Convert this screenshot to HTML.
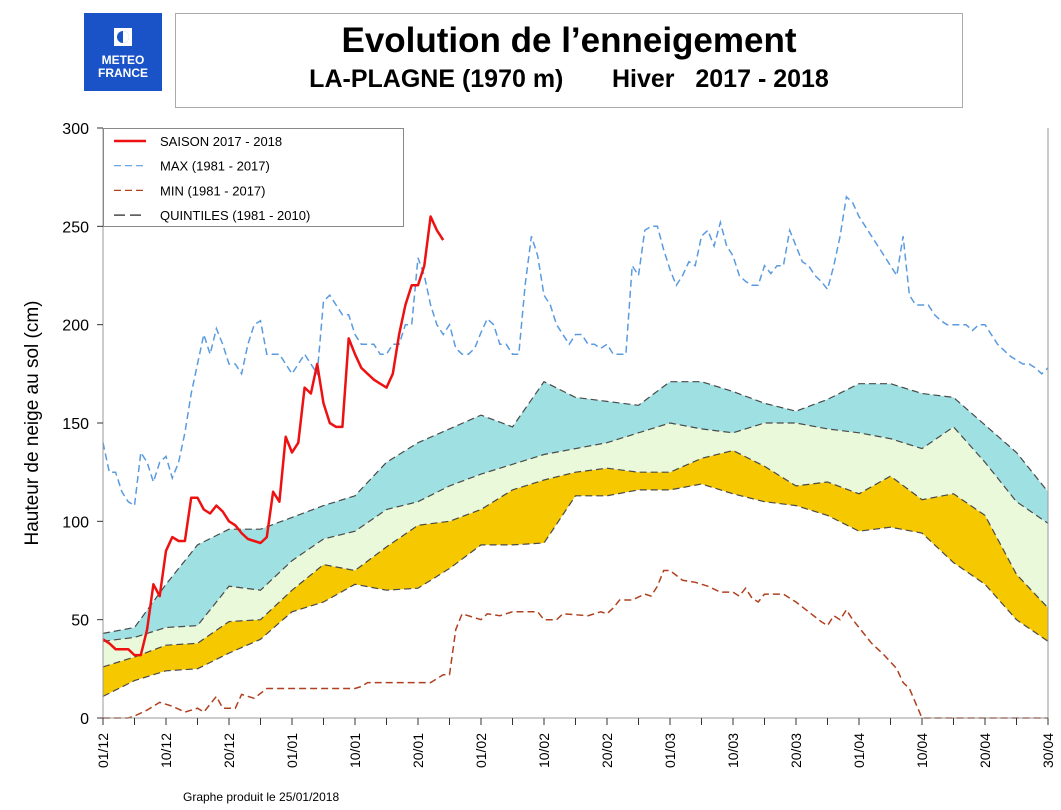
<!DOCTYPE html>
<html><head><meta charset="utf-8">
<style>
body{margin:0;background:#fff;width:1061px;height:805px;overflow:hidden;font-family:"Liberation Sans",sans-serif;}
</style></head>
<body>
<svg id="chart" width="1061" height="805" xmlns="http://www.w3.org/2000/svg" font-family="Liberation Sans, sans-serif">
<g>
<rect x="84" y="13" width="78" height="78" fill="#1a52c8"/>
<rect x="114" y="28" width="18" height="18" fill="#fff"/>
<circle cx="123" cy="37" r="6" fill="#1a52c8"/><path d="M123 31 A6 6 0 0 1 123 43 Z" fill="#fff"/>
<text x="123" y="64" fill="#fff" font-size="12" font-weight="bold" text-anchor="middle">METEO</text>
<text x="123" y="77" fill="#fff" font-size="12" font-weight="bold" text-anchor="middle">FRANCE</text>
</g>
<rect x="175.5" y="13.5" width="787" height="94" fill="#fff" stroke="#aaa"/>
<text x="569" y="52" font-size="35" font-weight="bold" text-anchor="middle">Evolution de l’enneigement</text>
<text x="569" y="87" font-size="25" font-weight="bold" text-anchor="middle" xml:space="preserve">LA-PLAGNE (1970 m)       Hiver   2017 - 2018</text>
<text transform="translate(38,423) rotate(-90)" font-size="19" text-anchor="middle">Hauteur de neige au sol (cm)</text>
<text x="183" y="801" font-size="12">Graphe produit le 25/01/2018</text>
<g id="plot"></g>
</svg>
<script>
const qDays=[0,5,10,15,20,25,30,35,40,45,50,55,60,65,70,75,80,85,90,95,100,105,110,115,120,125,130,135,140,145,150];
const q4=[43,46,68,88,96,96,102,108,113,130,140,147,154,148,171,163,161,159,171,171,166,160,156,162,170,170,165,163,149,135,115];
const q3=[39,41,46,47,67,65,80,91,95,106,110,118,124,129,134,137,140,145,150,147,145,150,150,147,145,142,137,148,130,110,99];
const q2=[26,31,37,38,49,50,65,78,75,87,98,100,106,116,121,125,127,125,125,132,136,128,118,120,114,123,111,114,103,73,56];
const q1=[11,19,24,25,33,40,54,59,68,65,66,76,88,88,89,113,113,116,116,119,114,110,108,103,95,97,94,79,68,50,39];
const season=[40,38,35,35,35,32,32,45,68,62,85,92,90,90,112,112,106,104,108,105,100,98,94,91,90,89,92,115,110,143,135,140,168,165,180,160,150,148,148,193,185,178,175,172,170,168,175,195,210,220,220,230,255,248,243];
const maxVals=[140,125,125,115,110,108,135,130,120,130,133,122,130,145,165,180,195,185,198,190,180,180,175,190,200,202,185,185,185,180,175,180,185,180,175,212,215,210,205,205,195,190,190,190,185,185,190,190,200,200,234,225,210,200,195,200,188,185,185,188,196,203,200,190,190,185,185,220,245,235,215,210,200,195,190,195,195,190,190,188,190,185,185,185,230,225,248,250,250,238,228,220,225,232,230,245,248,240,252,240,235,225,222,220,220,230,226,230,230,248,240,232,230,225,222,218,230,245,265,262,255,250,245,240,235,230,225,245,215,210,210,210,205,202,200,200,200,200,197,200,200,195,190,187,184,182,180,180,178,175,178];
const minDays=[0,4,5,7,9,11,13,15,16,18,19,21,22,24,26,40,41,42,52,54,55,56,57,59,60,61,63,65,69,70,72,73,77,79,80,81,82,84,86,87,88,89,90,92,94,96,98,100,101,102,103,104,105,108,110,112,114,115,116,117,118,119,120,122,124,126,127,128,130,150];
const minVals=[0,0,1,4,8,6,3,5,3,11,5,5,12,10,15,15,16,18,18,22,22,45,53,51,50,53,52,54,54,50,50,53,52,54,53,56,60,60,63,62,67,75,75,70,69,67,64,64,62,66,61,59,63,63,59,54,49,47,52,50,55,50,46,38,32,25,18,15,0,0];
const yTicks=[0,50,100,150,200,250,300];
const xLabels=["01/12","10/12","20/12","01/01","10/01","20/01","01/02","10/02","20/02","01/03","10/03","20/03","01/04","10/04","20/04","30/04"];
const xLabelDays=[0,10,20,30,40,50,60,70,80,90,100,110,120,130,140,150];
const legendLabels=["SAISON 2017 - 2018","MAX (1981 - 2017)","MIN (1981 - 2017)","QUINTILES (1981 - 2010)"];

const X0=103,X1=1048,Y0=718,Y1=128;
const xs=d=>X0+(X1-X0)*d/150;
const ys=v=>Y0-(Y0-Y1)*v/300;
const NS="http://www.w3.org/2000/svg";
const plot=document.getElementById('plot');
function mk(tag,attrs,parent){const e=document.createElementNS(NS,tag);for(const k in attrs)e.setAttribute(k,attrs[k]);(parent||plot).appendChild(e);return e;}
function pts(days,vals){return days.map((d,i)=>xs(d).toFixed(1)+","+ys(vals[i]).toFixed(1));}
function band(lo,hi,fill,name){
  const p=pts(qDays,hi).concat(pts(qDays,lo).reverse());
  const e=mk('polygon',{points:p.join(' '),fill:fill});
  
  
}
band(q1,q2,'#f6c800','band-q1-q2');
band(q2,q3,'#e9f9da','band-q2-q3');
band(q3,q4,'#9fe0e2','band-q3-q4');
[q1,q2,q3,q4].forEach((q,i)=>{
  const e=mk('polyline',{points:pts(qDays,q).join(' '),fill:'none',stroke:'#4a4a4a','stroke-width':1.2,'stroke-dasharray':'7,4'});
  
  
});
const allDays=maxVals.map((v,i)=>i);
let e=mk('polyline',{points:pts(allDays,maxVals).join(' '),fill:'none',stroke:'#5a9be0','stroke-width':1.5,'stroke-dasharray':'7,4'});


e=mk('polyline',{points:pts(minDays,minVals).join(' '),fill:'none',stroke:'#b04020','stroke-width':1.5,'stroke-dasharray':'7,4'});


e=mk('polyline',{points:pts(season.map((v,i)=>i),season).join(' '),fill:'none',stroke:'#ee1111','stroke-width':2.5,'stroke-linejoin':'round'});


e=mk('path',{d:`M${X0} ${Y1}V${Y0}H${X1}V${Y1}`,fill:'none',stroke:'#999','stroke-width':1});


yTicks.forEach(v=>{
  const t=mk('line',{x1:X0-6,x2:X0,y1:ys(v),y2:ys(v),stroke:'#333'});
  
  
  const l=mk('text',{x:X0-14,y:ys(v)+6,'font-size':16,'text-anchor':'end'});
  l.textContent=v;
  
  
});
for(let d=0;d<=150;d+=5){
  const t=mk('line',{x1:xs(d),x2:xs(d),y1:Y0,y2:Y0+7,stroke:'#333'});
  
  
}
xLabels.forEach((s,i)=>{
  const x=xs(xLabelDays[i])+5;
  const l=mk('text',{transform:`translate(${x},${Y0+15}) rotate(-90)`,'font-size':14,'text-anchor':'end'});
  l.textContent=s;
  
  
});
const lg=mk('g',{});


mk('rect',{x:103.5,y:128.5,width:300,height:98,fill:'#fff',stroke:'#888'},lg);
const styles=[{s:'#ee1111',w:2.5,da:''},{s:'#5a9be0',w:1.2,da:'7,4'},{s:'#b04020',w:1.2,da:'7,4'},{s:'#4a4a4a',w:1.5,da:'11,5'}];
legendLabels.forEach((s,i)=>{
  const y=141+i*24.7;
  const ln=mk('line',{x1:114,x2:146,y1:y,y2:y,stroke:styles[i].s,'stroke-width':styles[i].w,'stroke-dasharray':styles[i].da},lg);
  
  
  const t=mk('text',{x:160,y:y+5,'font-size':13},lg);
  t.textContent=s;
  
  
});
</script>
</body></html>
